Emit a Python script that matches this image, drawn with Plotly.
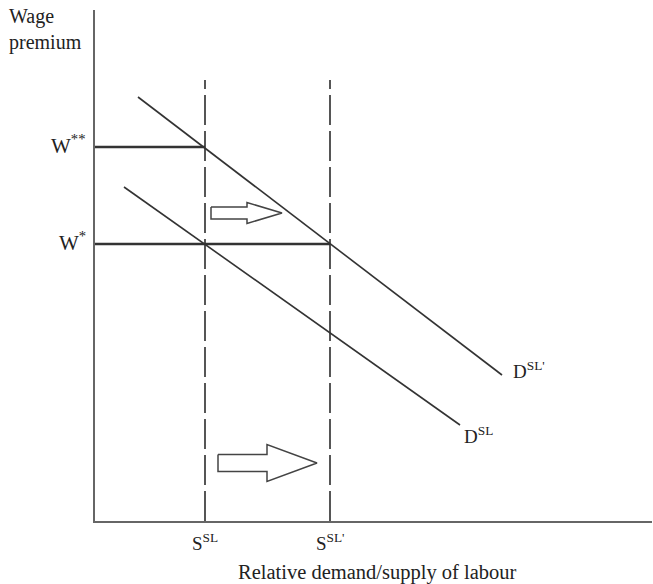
import plotly.graph_objects as go

# Schematic values (arbitrary units)
supply_x = [110, 235]            # S^SL, S^SL'
supply_labels = ["S<sup>SL</sup>", "S<sup>SL'</sup>"]
supply_top = 441
wage_y = [374, 277]              # W**, W*
wage_labels = ["W<sup>**</sup>", "W<sup>*</sup>"]
wage_x_end = [110, 235]
demand_new_x = [43, 407]         # D^SL'
demand_new_y = [424, 146]
demand_old_x = [29, 365]         # D^SL
demand_old_y = [334, 96]
demand_labels = ["D<sup>SL'</sup>", "D<sup>SL</sup>"]
# block arrows: tail x, neck x, tip x, centre y, shaft half-height, head half-height
arrows = [
    (116, 152, 187, 308, 6, 10.5),
    (123, 172, 222, 58, 8.5, 18.5),
]

X_MAX, Y_MAX = 557, 511
FONT = "Liberation Serif, Times New Roman, serif"
INK = "#333333"
TXT = "#222222"

fig = go.Figure()

# supply (dashed verticals)
for sx in supply_x:
    fig.add_trace(go.Scatter(x=[sx, sx], y=[0, supply_top], mode="lines",
                             line=dict(color="#444444", width=1.8, dash="30px,6px"),
                             hoverinfo="skip", showlegend=False))

# wage levels
for wy, wx in zip(wage_y, wage_x_end):
    fig.add_trace(go.Scatter(x=[0, wx], y=[wy, wy], mode="lines",
                             line=dict(color=INK, width=2.4),
                             hoverinfo="skip", showlegend=False))

# demand curves
for dx, dy in [(demand_new_x, demand_new_y), (demand_old_x, demand_old_y)]:
    fig.add_trace(go.Scatter(x=dx, y=dy, mode="lines",
                             line=dict(color=INK, width=1.6),
                             hoverinfo="skip", showlegend=False))

# block arrows
for tail, neck, tip, cy, sh, hh in arrows:
    ax = [tail, neck, neck, tip, neck, neck, tail, tail]
    ay = [cy + sh, cy + sh, cy + hh, cy, cy - hh, cy - sh, cy - sh, cy + sh]
    fig.add_trace(go.Scatter(x=ax, y=ay, mode="lines",
                             line=dict(color="#444444", width=1.5),
                             hoverinfo="skip", showlegend=False))

ann = []
for sx, lab in zip(supply_x, supply_labels):
    ann.append(dict(x=sx, y=0, xref="x", yref="y", text=lab, showarrow=False,
                    xanchor="center", yanchor="top", yshift=-7,
                    font=dict(family=FONT, size=19, color=TXT)))
for wy, lab in zip(wage_y, wage_labels):
    ann.append(dict(x=0, y=wy, xref="x", yref="y", text=lab, showarrow=False,
                    xanchor="right", yanchor="middle", xshift=-7, yshift=3,
                    font=dict(family=FONT, size=21, color=TXT)))
ann.append(dict(x=demand_new_x[1], y=demand_new_y[1], xref="x", yref="y",
                text=demand_labels[0], showarrow=False, xanchor="left",
                yanchor="middle", xshift=9, yshift=5,
                font=dict(family=FONT, size=19, color=TXT)))
ann.append(dict(x=demand_old_x[1], y=demand_old_y[1], xref="x", yref="y",
                text=demand_labels[1], showarrow=False, xanchor="left",
                yanchor="middle", xshift=2, yshift=-10,
                font=dict(family=FONT, size=19, color=TXT)))
ann.append(dict(x=0.5, y=0, xref="paper", yref="paper",
                text="Relative demand/supply of labour", showarrow=False,
                xanchor="center", yanchor="top", yshift=-38, xshift=4,
                font=dict(family=FONT, size=20.5, color=TXT)))
ann.append(dict(x=0, y=1, xref="paper", yref="paper",
                text="Wage<br>premium", showarrow=False, align="left",
                xanchor="left", yanchor="top", xshift=-88, yshift=7,
                font=dict(family=FONT, size=20, color=TXT)))

fig.update_layout(
    width=653, height=584,
    margin=dict(l=95, r=1, t=10, b=63),
    paper_bgcolor="white", plot_bgcolor="white",
    annotations=ann,
    xaxis=dict(range=[0, X_MAX], showgrid=False, zeroline=False,
               showticklabels=False, ticks="", showline=True,
               linecolor="#666666", linewidth=2),
    yaxis=dict(range=[0, Y_MAX], showgrid=False, zeroline=False,
               showticklabels=False, ticks="", showline=True,
               linecolor="#666666", linewidth=2),
)

fig.write_html("out.html", config={"displayModeBar": False},
               post_script="document.body.style.margin='0';document.body.style.overflow='hidden';")
